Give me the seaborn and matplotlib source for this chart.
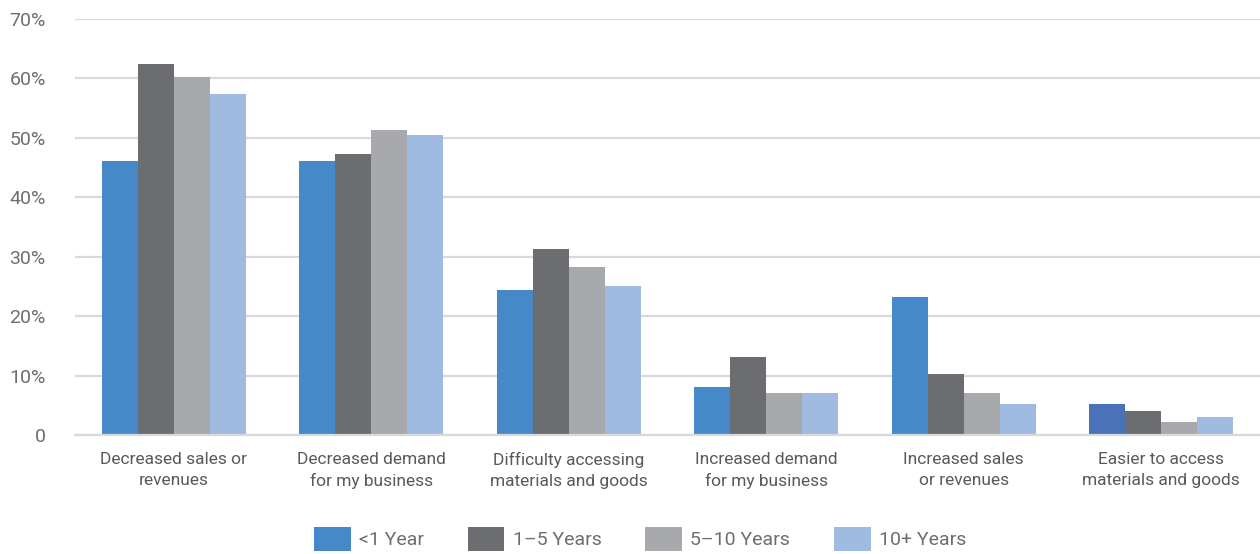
import numpy as np
import pandas as pd
import matplotlib
matplotlib.use("Agg")
import matplotlib.pyplot as plt
import seaborn as sns
from matplotlib.patches import Patch
from matplotlib.ticker import FixedLocator, FuncFormatter

categories = [
    "Decreased sales or\nrevenues",
    "Decreased demand\nfor my business",
    "Difficulty accessing\nmaterials and goods",
    "Increased demand\nfor my business",
    "Increased sales\nor revenues",
    "Easier to access\nmaterials and goods",
]
series = ["<1 Year", "1\u20135 Years", "5\u201310 Years", "10+ Years"]
under_1 = [46.1, 46.1, 24.4, 8.1, 23.2, 5.2]
yrs_1_5 = [62.5, 47.3, 31.3, 13.1, 10.3, 4.0]
yrs_5_10 = [60.3, 51.3, 28.3, 7.1, 7.1, 2.2]
yrs_10_plus = [57.4, 50.5, 25.1, 7.1, 5.2, 3.0]
y_ticks = [0, 10, 20, 30, 40, 50, 60, 70]

colors = ["#4589C8", "#6C6D71", "#A8A9AD", "#A0BBE1"]
text_color = "#6D6E71"
label_color = "#58595B"
grid_color = "#D9D9D9"

df = pd.DataFrame({
    "category": categories * 4,
    "series": np.repeat(series, len(categories)),
    "value": under_1 + yrs_1_5 + yrs_5_10 + yrs_10_plus,
})

sns.set_theme(style="white")
plt.rcParams["font.family"] = ["Roboto", "DejaVu Sans"]

fig = plt.figure(figsize=(12.6, 5.54), dpi=100)
ax = fig.add_axes([75 / 1260, 1 - 435 / 554, 1 - 75 / 1260, (435 - 19) / 554])

sns.barplot(data=df, x="category", y="value", hue="series", order=categories,
            hue_order=series, palette=colors, width=0.73, saturation=1,
            linewidth=0, ax=ax, legend=False)

# the last "<1 Year" bar is drawn in a deeper blue
for bar in ax.containers[0][5:6]:
    bar.set_facecolor("#4A72B8")

ax.set_xlim(-0.5, len(categories) - 0.5)
ax.set_ylim(0, 70)
ax.set_xlabel("")
ax.set_ylabel("")

ax.yaxis.set_major_locator(FixedLocator(y_ticks))
ax.yaxis.set_major_formatter(FuncFormatter(lambda v, p: "0" if v == 0 else f"{v:.0f}%"))
ax.grid(axis="y", color=grid_color, linewidth=1.6)
ax.set_axisbelow(True)
ax.tick_params(axis="y", length=0, pad=21, labelsize=14, labelcolor=text_color)

ax.set_xticks(np.arange(len(categories)), labels=categories, linespacing=1.5)
ax.tick_params(axis="x", which="major", length=0, pad=12, labelsize=12.5, labelcolor=label_color)
ax.set_xticks(np.arange(-0.5, len(categories) + 0.5), minor=True)
ax.tick_params(axis="x", which="minor", length=10, width=1.6, color=grid_color)

for side in ["top", "right", "left"]:
    ax.spines[side].set_visible(False)
ax.spines["bottom"].set_color(grid_color)
ax.spines["bottom"].set_linewidth(1.6)

handles = [Patch(facecolor=c, edgecolor="none", label=s) for c, s in zip(colors, series)]
fig.legend(handles=handles, loc="center", bbox_to_anchor=(0.508, 1 - 539 / 554), ncol=4,
           frameon=False, fontsize=14, labelcolor=text_color, handlelength=1.9,
           handleheight=1.5, handletextpad=0.42, columnspacing=2.25, borderpad=0)

fig.savefig("out.png", dpi=100)
